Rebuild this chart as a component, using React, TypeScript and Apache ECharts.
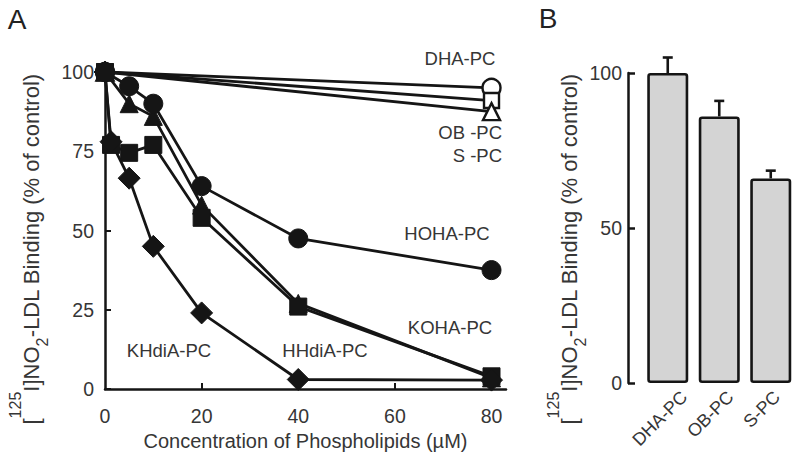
import React, { useEffect, useRef } from 'react';
import * as echarts from 'echarts';

// ---- Panel A data (concentration µM, % of control) ----
const xOpen = [0, 80];
const dhaPC = [100, 95];
const obPC = [100, 91];
const sPC = [100, 87.5];

const xHOHA = [0, 5, 10, 20, 40, 80];
const hohaPC = [100, 95.5, 90, 64, 47.5, 37.5];

const xKOHA = [0, 5, 10, 20, 40, 80];
const kohaPC = [100, 90, 86, 58, 27, 3.5];

const xHHdiA = [0, 1.25, 5, 10, 20, 40, 80];
const hhdiaPC = [100, 77, 74.5, 77, 54, 26, 4];

const xKHdiA = [0, 1.25, 5, 10, 20, 40, 80];
const khdiaPC = [100, 78, 66.5, 45, 24, 3, 2.8];

const xTickLabels = [0, 20, 40, 60, 80];
const yTickLabelsA = [0, 25, 50, 75, 100];

// ---- Panel B data ----
const barCategories = ['DHA-PC', 'OB-PC', 'S-PC'];
const barValues = [100, 86, 66];
const barErrors = [5, 5, 2.5];

const FONT = '"Liberation Sans", Arial, Helvetica, sans-serif';
const TXT = '#363636';
const INK = '#151515';

const pairs = (xs: number[], ys: number[]) => xs.map((x, i) => [x, ys[i]]);

function lineSeries(name: string, xs: number[], ys: number[], symbol: string, size: number, open: boolean) {
  return {
    name,
    type: 'line',
    xAxisIndex: 0,
    yAxisIndex: 0,
    data: pairs(xs, ys),
    symbol,
    symbolSize: size,
    showSymbol: true,
    clip: false,
    lineStyle: { color: INK, width: 2.8 },
    itemStyle: {
      color: open ? '#ffffff' : INK,
      borderColor: INK,
      borderWidth: open ? 2.4 : 1,
    },
    emphasis: { disabled: true },
  };
}

const yTitle = '[{sup|125}I]NO{sub|2}-LDL Binding (% of control)';
const yTitleRich = {
  sup: { fontSize: 16, height: 18, verticalAlign: 'top', fill: TXT, fontFamily: FONT },
  sub: { fontSize: 16, height: 28, verticalAlign: 'bottom', fill: TXT, fontFamily: FONT },
};

function label(text: string, x: number, y: number, align = 'center') {
  return {
    type: 'text',
    x,
    y,
    style: { text, fontSize: 18.5, fontFamily: FONT, fill: TXT, align, verticalAlign: 'middle' },
  };
}

function yTitleGraphic(x: number, y: number) {
  return {
    type: 'text',
    x,
    y,
    rotation: Math.PI / 2,
    style: {
      text: yTitle,
      rich: yTitleRich,
      fontSize: 22,
      lineHeight: 50,
      fontFamily: FONT,
      fill: TXT,
      align: 'center',
      verticalAlign: 'middle',
    },
  };
}

export default function App() {
  const ref = useRef<HTMLDivElement>(null);
  useEffect(() => {
    if (!ref.current) return;
    const chart = echarts.init(ref.current, undefined, { renderer: 'svg' });
    const option: any = {
      animation: false,
      backgroundColor: '#ffffff',
      textStyle: { fontFamily: FONT },
      grid: [
        { left: 105, top: 72, width: 401, height: 317 },
        { left: 642, top: 73, width: 154.5, height: 310 },
        { left: 661, top: 73, width: 154.5, height: 310 },
      ],
      xAxis: [
        {
          type: 'value',
          gridIndex: 0,
          min: 0,
          max: 83,
          interval: 20,
          axisLine: { show: true, lineStyle: { color: INK, width: 2.5 } },
          axisTick: { show: true, inside: true, length: 6, lineStyle: { color: INK, width: 2 }, customValues: [20, 40, 60] },
          axisLabel: {
            customValues: xTickLabels,
            formatter: (v: number) => (v % 20 === 0 ? String(v) : ''),
            fontSize: 19.5,
            color: TXT,
            margin: 17,
            fontFamily: FONT,
          },
          splitLine: { show: false },
          name: 'Concentration of Phospholipids (µM)',
          nameLocation: 'middle',
          nameGap: 37,
          nameTextStyle: { fontSize: 20, color: TXT, fontFamily: FONT },
        },
        {
          type: 'category',
          gridIndex: 1,
          data: barCategories,
          axisLine: { show: false },
          axisTick: { show: false },
          axisLabel: { show: false },
        },
        {
          type: 'category',
          gridIndex: 2,
          data: barCategories,
          axisLine: { show: false },
          axisTick: { show: false },
          axisLabel: { show: true, rotate: 45, fontSize: 18, color: TXT, margin: 11, fontFamily: FONT },
        },
      ],
      yAxis: [
        {
          type: 'value',
          gridIndex: 0,
          min: 0,
          max: 100,
          interval: 25,
          axisLine: { show: true, lineStyle: { color: INK, width: 2.5 } },
          axisTick: { show: true, inside: true, length: 6, lineStyle: { color: INK, width: 2 } },
          axisLabel: {
            customValues: yTickLabelsA,
            fontSize: 19.5,
            color: TXT,
            margin: 11,
            fontFamily: FONT,
          },
          splitLine: { show: false },
        },
        {
          type: 'value',
          gridIndex: 1,
          min: 0,
          max: 100,
          interval: 50,
          offset: 14,
          axisLine: { show: true, lineStyle: { color: INK, width: 2.5 } },
          axisTick: { show: true, inside: true, length: 7, lineStyle: { color: INK, width: 2.5 } },
          axisLabel: { fontSize: 19.5, color: TXT, margin: 6, fontFamily: FONT },
          splitLine: { show: false },
        },
        {
          type: 'value',
          gridIndex: 2,
          min: 0,
          max: 100,
          show: false,
        },
      ],
      series: [
        lineSeries('DHA-PC', xOpen, dhaPC, 'circle', 18, true),
        lineSeries('OB-PC', xOpen, obPC, 'rect', 15, true),
        lineSeries('S-PC', xOpen, sPC, 'triangle', 17, true),
        lineSeries('KOHA-PC', xKOHA, kohaPC, 'triangle', 18, false),
        lineSeries('HHdiA-PC', xHHdiA, hhdiaPC, 'rect', 17, false),
        lineSeries('KHdiA-PC', xKHdiA, khdiaPC, 'diamond', 22, false),
        lineSeries('HOHA-PC', xHOHA, hohaPC, 'circle', 19, false),
        {
          name: 'bars',
          type: 'bar',
          xAxisIndex: 1,
          yAxisIndex: 1,
          data: barValues,
          barWidth: 41,
          itemStyle: { color: '#d4d4d4', borderColor: INK, borderWidth: 2.6, borderRadius: 2 },
          emphasis: { disabled: true },
        },
        {
          name: 'errors',
          type: 'custom',
          xAxisIndex: 1,
          yAxisIndex: 1,
          clip: false,
          data: barValues.map((v, i) => [i, v, barErrors[i]]),
          encode: { x: 0, y: 1 },
          renderItem: (params: any, api: any) => {
            const i = api.value(0);
            const v = api.value(1);
            const e = api.value(2);
            const p0 = api.coord([i, v]);
            const p1 = api.coord([i, v + e]);
            const st = { stroke: INK, lineWidth: 2.6 };
            return {
              type: 'group',
              children: [
                { type: 'line', shape: { x1: p0[0], y1: p0[1], x2: p1[0], y2: p1[1] }, style: st },
                { type: 'line', shape: { x1: p1[0] - 5, y1: p1[1], x2: p1[0] + 5, y2: p1[1] }, style: st },
              ],
            };
          },
        },
      ],
      graphic: [
        { type: 'text', x: 17, y: 19, style: { text: 'A', fontSize: 28, fontFamily: FONT, fill: '#222', align: 'center', verticalAlign: 'middle' } },
        { type: 'text', x: 548, y: 18, style: { text: 'B', fontSize: 28, fontFamily: FONT, fill: '#222', align: 'center', verticalAlign: 'middle' } },
        yTitleGraphic(31, 249),
        yTitleGraphic(569, 249),
        label('DHA-PC', 460, 58),
        label('OB -PC', 502, 132, 'right'),
        label('S -PC', 502, 155, 'right'),
        label('HOHA-PC', 447, 233),
        label('KOHA-PC', 450, 327),
        label('HHdiA-PC', 325, 350),
        label('KHdiA-PC', 169, 350),
      ],
    };
    chart.setOption(option);
    return () => chart.dispose();
  }, []);
  return <div ref={ref} style={{ position: 'fixed', left: 0, top: 0, width: 800, height: 468 }} />;
}
